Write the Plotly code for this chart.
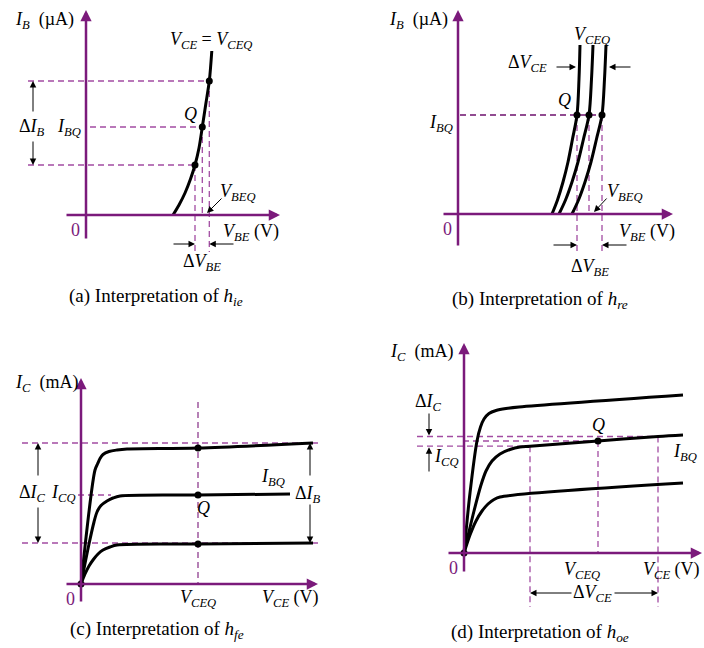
import plotly.graph_objects as go

W, H = 704, 648

# where the two purple axes of each panel cross, in page pixels
ORIGINS = {"a": (86, 215), "b": (458, 214), "c": (81, 584), "d": (464, 553)}
AXES = {"a": ("x", "y"), "b": ("x2", "y2"), "c": ("x3", "y3"), "d": ("x4", "y4")}

AXIS_PURPLE = "#7b1a7b"
DASH_PURPLE = "#a24ca2"
FONT = "Liberation Serif"
LABEL_SIZE = 18
CAPTION_SIZE = 19

# --- (a) input characteristic, one V_CE (arbitrary units) ---
VBE_A = [87, 93, 99, 104.5, 109, 113, 116.3, 119.8, 123.3, 125.8]
IB_A = [0, 10, 22, 36, 50, 67, 88, 111, 134, 164]
VBE_A_PTS = [109, 116.3, 123.3]
IB_A_PTS = [50, 88, 134]

# --- (b) input characteristics for three V_CE values ---
IB_B = [0, 14, 32, 52, 75, 99, 135, 169]
VBE_B_LO = [94, 99.5, 105, 110, 114.5, 119, 121, 122]
VBE_B_Q = [101, 107.5, 114, 120, 125.5, 131, 133.5, 135]
VBE_B_HI = [114, 120.5, 127, 133, 138.5, 144, 146.5, 148]
IBQ_B = 99
VBE_B_PTS = [119, 131, 144]

# --- (c) output characteristics, three I_B values ---
VCE_C_HI = [0, 14, 16.5, 19, 22, 28, 36, 46, 117, 232]
IC_C_HI = [0, 114, 120, 125.5, 129.5, 132.5, 134, 135, 136, 141]
VCE_C_Q = [0, 8, 13, 16, 20, 26, 32, 39, 117, 209]
IC_C_Q = [0, 40, 62, 72, 78.5, 83, 86, 88, 89, 90]
VCE_C_LO = [0, 4, 8, 12, 17, 22, 29, 36, 117, 232]
IC_C_LO = [0, 10, 18, 24, 30, 34, 37, 39, 40, 41]
VCEQ_C = 117

# --- (d) output characteristics, sloped for h_oe ---
VCE_D_HI = [0, 6, 13, 16.5, 20, 25, 32, 42, 55, 219]
IC_D_HI = [0, 60, 112, 126, 134, 139.5, 142.5, 144.5, 146, 158]
VCE_D_Q = [0, 10, 17, 22, 28, 36, 46, 56, 66, 134, 194, 219]
IC_D_Q = [0, 42, 68, 82, 92, 99, 103.5, 106, 106.8, 112, 116.5, 118]
VCE_D_LO = [0, 6, 12, 18, 24, 30, 36, 219]
IC_D_LO = [0, 18, 32, 42, 49, 53.5, 56, 70]
VCE_D_PTS = [66, 134, 194]
IC_D_PTS = [106.8, 112, 116.5]

fig = go.Figure()


def curve(p, xs, ys):
    xr, yr = AXES[p]
    fig.add_trace(go.Scatter(x=xs, y=ys, xaxis=xr, yaxis=yr, mode="lines",
                             line={"color": "black", "width": 3, "shape": "spline", "smoothing": 0.9},
                             hoverinfo="skip", showlegend=False))


def dots(p, xs, ys):
    xr, yr = AXES[p]
    fig.add_trace(go.Scatter(x=xs, y=ys, xaxis=xr, yaxis=yr, mode="markers",
                             marker={"color": "black", "size": 7},
                             hoverinfo="skip", showlegend=False))


def dashed(p, x0, y0, x1, y1, color=DASH_PURPLE, width=1.3):
    xr, yr = AXES[p]
    fig.add_shape(type="line", xref=xr, yref=yr, x0=x0, y0=y0, x1=x1, y1=y1,
                  line={"color": color, "width": width, "dash": "6px,4px"}, layer="below")


def arrow(p, x0, y0, x1, y1, color="black", width=1.0, size=1.3):
    xr, yr = AXES[p]
    fig.add_annotation(x=x1, y=y1, ax=x0, ay=y0, xref=xr, yref=yr, axref=xr, ayref=yr,
                       text="", showarrow=True, arrowhead=2, arrowsize=size,
                       arrowwidth=width, arrowcolor=color, standoff=0, startstandoff=0)


def label(p, x, y, text, anchor="center", size=LABEL_SIZE, color="black"):
    xr, yr = AXES[p]
    fig.add_annotation(x=x, y=y, xref=xr, yref=yr, text=text, showarrow=False,
                       xanchor=anchor, yanchor="middle",
                       font={"family": FONT, "size": size, "color": color})


def axes(p, xl, xr_, yb, yt):
    arrow(p, xl, 0, xr_, 0, color=AXIS_PURPLE, width=2.5, size=0.9)
    arrow(p, 0, yb, 0, yt, color=AXIS_PURPLE, width=2.5, size=0.9)
    label(p, -11, -15, "0", color=AXIS_PURPLE)


def sub(var, s):
    return f"<i>{var}</i><sub><i>{s}</i></sub>"


# ---------------- (a) ----------------
dashed("a", -58, IB_A_PTS[2], VBE_A_PTS[2], IB_A_PTS[2])
dashed("a", 4, IB_A_PTS[1], VBE_A_PTS[1], IB_A_PTS[1])
dashed("a", -58, IB_A_PTS[0], VBE_A_PTS[0], IB_A_PTS[0])
dashed("a", VBE_A_PTS[0], IB_A_PTS[0], VBE_A_PTS[0], -37)
dashed("a", VBE_A_PTS[1], IB_A_PTS[1], VBE_A_PTS[1], 0)
dashed("a", VBE_A_PTS[2], IB_A_PTS[2], VBE_A_PTS[2], -37)
axes("a", -21, 194, -25, 205)
curve("a", VBE_A, IB_A)
dots("a", VBE_A_PTS, IB_A_PTS)
arrow("a", -53, 102, -53, IB_A_PTS[2])
arrow("a", -53, 75, -53, IB_A_PTS[0])
arrow("a", 86, -29, VBE_A_PTS[0], -29)
arrow("a", 149, -29, VBE_A_PTS[2], -29)
arrow("a", 137, 18, 121, 2)
label("a", -73, 195, sub("I", "B") + "\u00a0 (µA)", anchor="left")
label("a", 125, 175, sub("V", "CE") + " = " + sub("V", "CEQ"))
label("a", -54, 88, "Δ" + sub("I", "B"))
label("a", -3, 88, sub("I", "BQ"), anchor="right")
label("a", 104, 101, "<i>Q</i>")
label("a", 132, 23, sub("V", "BEQ"), anchor="left")
label("a", 165, -17, sub("V", "BE") + " (V)")
label("a", 116, -47, "Δ" + sub("V", "BE"))
label("a", 70, -82, "(a) Interpretation of " + sub("h", "ie"), size=CAPTION_SIZE)

# ---------------- (b) ----------------
dashed("b", 2, IBQ_B, VBE_B_PTS[2], IBQ_B, color="#6e106e")
dashed("b", VBE_B_PTS[0], IBQ_B, VBE_B_PTS[0], -39)
dashed("b", VBE_B_PTS[1], IBQ_B, VBE_B_PTS[1], 0)
dashed("b", VBE_B_PTS[2], IBQ_B, VBE_B_PTS[2], -39)
axes("b", -16, 215, -33, 204)
curve("b", VBE_B_LO, IB_B)
curve("b", VBE_B_Q, IB_B)
curve("b", VBE_B_HI, IB_B)
dots("b", VBE_B_PTS, [IBQ_B] * 3)
arrow("b", 97, 147, 118, 147)
arrow("b", 174, 147, 151, 147)
arrow("b", 94, -31, VBE_B_PTS[0], -31)
arrow("b", 170, -31, VBE_B_PTS[2], -31)
arrow("b", 150, 17, 136, 2)
label("b", -71, 194, sub("I", "B") + "\u00a0 (µA)", anchor="left")
label("b", 134, 179, sub("V", "CEQ"))
label("b", 69, 151, "Δ" + sub("V", "CE"))
label("b", 106, 114, "<i>Q</i>")
label("b", -3, 91, sub("I", "BQ"), anchor="right")
label("b", 147, 22, sub("V", "BEQ"), anchor="left")
label("b", 189, -18, sub("V", "BE") + " (V)")
label("b", 132, -53, "Δ" + sub("V", "BE"))
label("b", 82, -86, "(b) Interpretation of " + sub("h", "re"), size=CAPTION_SIZE)

# ---------------- (c) ----------------
dashed("c", -59, IC_C_HI[-1], 239, IC_C_HI[-1])
dashed("c", -3, IC_C_Q[8], 30, IC_C_Q[8])
dashed("c", -59, IC_C_LO[-1], 239, IC_C_LO[-1])
dashed("c", VCEQ_C, 182, VCEQ_C, 0, color="#7b1a7b", width=1.1)
axes("c", -16, 237, -19, 206)
curve("c", VCE_C_HI, IC_C_HI)
curve("c", VCE_C_Q, IC_C_Q)
curve("c", VCE_C_LO, IC_C_LO)
dots("c", [VCEQ_C] * 3, [IC_C_HI[8], IC_C_Q[8], IC_C_LO[8]])
dots("c", [0], [0])
arrow("c", -43, 107, -43, IC_C_HI[-1])
arrow("c", -43, 78, -43, IC_C_LO[-1])
arrow("c", 229, 107, 229, IC_C_HI[-1])
arrow("c", 229, 81, 229, IC_C_LO[-1])
label("c", -68, 201, sub("I", "C") + "\u00a0 (mA)", anchor="left")
label("c", -49, 91, "Δ" + sub("I", "C"))
label("c", -3, 91, sub("I", "CQ"), anchor="right")
label("c", 227, 90, "Δ" + sub("I", "B"))
label("c", 192, 107, sub("I", "BQ"))
label("c", 122, 76, "<i>Q</i>")
label("c", 117, -14, sub("V", "CEQ"))
label("c", 209, -14, sub("V", "CE") + " (V)")
label("c", 76, -46, "(c) Interpretation of " + sub("h", "fe"), size=CAPTION_SIZE)

# ---------------- (d) ----------------
dashed("d", -47, IC_D_PTS[2], VCE_D_PTS[2], IC_D_PTS[2])
dashed("d", -1, IC_D_PTS[1], VCE_D_PTS[1], IC_D_PTS[1])
dashed("d", -47, IC_D_PTS[0], VCE_D_PTS[0], IC_D_PTS[0])
dashed("d", VCE_D_PTS[0], IC_D_PTS[0], VCE_D_PTS[0], -54)
dashed("d", VCE_D_PTS[1], IC_D_PTS[1], VCE_D_PTS[1], 0)
dashed("d", VCE_D_PTS[2], IC_D_PTS[2], VCE_D_PTS[2], -54)
axes("d", -17, 238, -20, 210)
curve("d", VCE_D_HI, IC_D_HI)
curve("d", VCE_D_Q, IC_D_Q)
curve("d", VCE_D_LO, IC_D_LO)
dots("d", [VCE_D_PTS[1], 0], [IC_D_PTS[1], 0])
arrow("d", -35, 141, -35, IC_D_PTS[2] + 1)
arrow("d", -35, 80, -35, IC_D_PTS[0] - 1)
arrow("d", 109, -40, VCE_D_PTS[0], -40)
arrow("d", 149, -40, VCE_D_PTS[2], -40)
label("d", -76, 201, sub("I", "C") + "\u00a0 (mA)", anchor="left")
label("d", -36, 151, "Δ" + sub("I", "C"))
label("d", -32, 96, sub("I", "CQ"), anchor="left")
label("d", 134, 128, "<i>Q</i>")
label("d", 221, 101, sub("I", "BQ"))
label("d", 118, -17, sub("V", "CEQ"))
label("d", 207, -17, sub("V", "CE") + " (V)")
label("d", 128, -40, "Δ" + sub("V", "CE"))
label("d", 76, -80, "(d) Interpretation of " + sub("h", "oe"), size=CAPTION_SIZE)

layout = {}
for p, (xr, yr) in AXES.items():
    ox, oy = ORIGINS[p]
    layout["xaxis" + xr[1:]] = {"domain": [0, 1], "range": [-ox, W - ox], "visible": False,
                                "anchor": yr, "fixedrange": True}
    layout["yaxis" + yr[1:]] = {"domain": [0, 1], "range": [oy - H, oy], "visible": False,
                                "anchor": xr, "fixedrange": True}

fig.update_layout(
    width=W, height=H,
    margin={"l": 0, "r": 0, "t": 0, "b": 0},
    paper_bgcolor="white",
    plot_bgcolor="rgba(0,0,0,0)",
    showlegend=False,
    **layout,
)

# drop the browser's default 8px body margin so the page lines up with the window
fig.write_html("out.html", config={"displayModeBar": False},
               post_script="document.body.style.margin='0px';")
